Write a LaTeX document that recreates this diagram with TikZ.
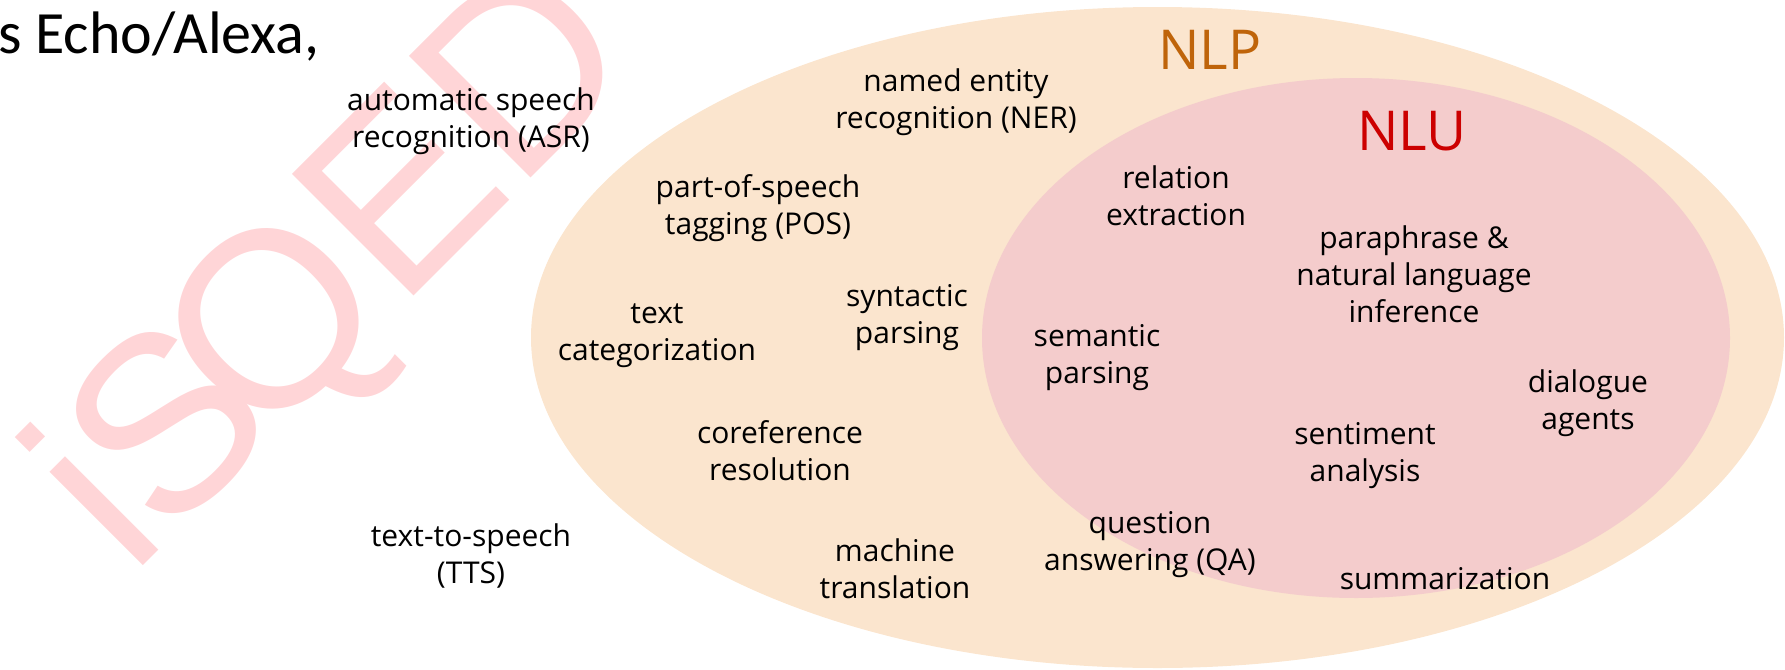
\documentclass[tikz,border=0pt]{standalone}
\usepackage{fontspec}
\setmainfont{Open Sans}
\newfontfamily\calibri{Carlito}
\newfontfamily\arial{Liberation Sans}
\usetikzlibrary{shapes.geometric}

\definecolor{nlpfill}{RGB}{251,229,206}
\definecolor{nlufill}{RGB}{244,204,204}
\definecolor{nlptext}{RGB}{191,100,10}
\definecolor{nlutext}{RGB}{204,0,0}
\definecolor{wmark}{RGB}{255,213,215}

\begin{document}
\begin{tikzpicture}[x=0.5pt,y=-0.5pt,
  task/.style={align=center, font=\fontsize{15}{18.5}\selectfont, inner sep=0pt, text=black},
  region/.style={ellipse, inner sep=0pt, draw=none},
  heading/.style={font=\fontsize{27.5}{30}\selectfont, anchor=base, inner sep=0pt}]
\useasboundingbox (0,0) rectangle (1785,670);

% watermark
\node[font=\arial\fontsize{125}{125}\selectfont, text=wmark, rotate=45,
      anchor=base west, inner sep=0pt] (wm) at (131.7,578.2) {i\kern-3pt S\kern-16.5pt QED};

% title fragment
\node[font=\calibri\fontsize{30}{36}\selectfont, anchor=base west, inner sep=0pt]
  (title) at (-2,53) {s Echo/Alexa,};

% nested regions
\node[region, fill=nlpfill, minimum width=626.5pt, minimum height=330.5pt] (nlp) at (1157.5,337.5) {};
\node[region, fill=nlufill, minimum width=374pt, minimum height=260pt] (nlu) at (1356,338) {};

\node[heading, text=nlptext] (nlplabel) at (1210,69) {NLP};
\node[heading, text=nlutext] (nlulabel) at (1412,150) {NLU};

% tasks outside NLP
\node[task] (asr) at (471,121) {automatic speech\\recognition (ASR)};
\node[task] (tts) at (471,556) {text-to-speech\\(TTS)};

% tasks in NLP only
\node[task] (ner) at (956,102) {named entity\\recognition (NER)};
\node[task] (pos) at (758,208) {part-of-speech\\tagging (POS)};
\node[task] (textcat) at (657,336) {text\\categorization};
\node[task] (syn) at (907,318) {syntactic\\parsing};
\node[task] (coref) at (780,451) {coreference\\resolution};
\node[task] (mt) at (895,569) {machine\\translation};

% tasks in NLU
\node[task] (rel) at (1176,196) {relation\\extraction};
\node[task] (nli) at (1414,274) {paraphrase \&\\natural language\\inference};
\node[task] (sem) at (1097,358) {semantic\\parsing};
\node[task] (dial) at (1588,403) {dialogue\\agents};
\node[task] (sent) at (1365,456) {sentiment\\analysis};
\node[task] (qa) at (1150,545) {question\\answering (QA)};
\node[task] (summ) at (1445,579) {summarization};
\end{tikzpicture}
\end{document}
